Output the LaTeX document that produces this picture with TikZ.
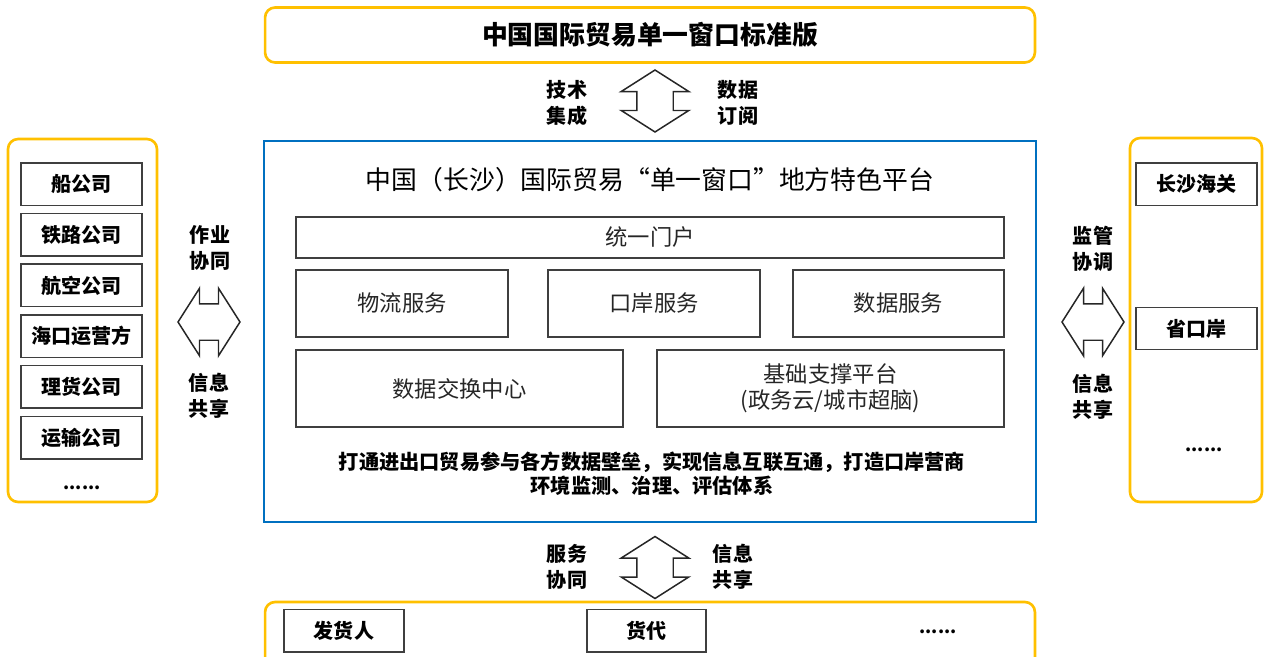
\documentclass[tikz,border=0pt]{standalone}
\usepackage{fontspec}
\setmainfont{Noto Sans CJK SC}
\usetikzlibrary{positioning,shapes.arrows}
\definecolor{frameyellow}{HTML}{FFC000}
\definecolor{frameblue}{HTML}{0070C0}
\definecolor{boxline}{HTML}{3F3F3F}

\begin{document}
\begin{tikzpicture}[x=0.02cm, y=-0.02cm,
    yframe/.style={
        draw=frameyellow, line width=1.5pt, rounded corners=0.2cm, inner sep=0pt,
    },
    party/.style={
        draw=boxline, line width=0.85pt, inner sep=0pt,
        minimum width=2.42cm, minimum height=0.85cm,
        font=\fontsize{11.4}{13}\selectfont\bfseries,
    },
    module/.style={
        draw=boxline, line width=0.85pt, inner sep=0pt, align=center,
        font=\fontsize{12.7}{14.8}\selectfont, text=black!85,
    },
    tag/.style={
        align=center, font=\fontsize{11.4}{14.7}\selectfont\bfseries,
    },
    flow/.style={
        double arrow, draw=black!85, line width=0.85pt,
        inner xsep=0pt, inner ysep=0.35cm,
        minimum width=1.32cm, minimum height=1.24cm,
        double arrow head extend=0.31cm, double arrow tip angle=115,
    }
]
    \useasboundingbox (0,0) rectangle (1264,656);
    \clip (0,0) rectangle (1264,656);

    % standard version on top
    \node[yframe, minimum width=15.4cm, minimum height=1.1cm,
        font=\fontsize{14.7}{17}\selectfont\bfseries] (std) at (650,35) {中国国际贸易单一窗口标准版};
    \node[flow, rotate=90] (topflow) at (655,101) {};
    \node[tag] (topleft) at (567,103) {技术\\集成};
    \node[tag] (topright) at (738,103) {数据\\订阅};

    % local platform
    \node[draw=frameblue, line width=1.5pt, minimum width=15.44cm, minimum height=7.62cm] (local) at (650,331.5) {};
    \node[font=\fontsize{14.7}{17}\selectfont] (localtitle) at (650,180) {中国（长沙）国际贸易“单一窗口”地方特色平台};
    \node[module, minimum width=14.16cm, minimum height=0.82cm] (portal) at (650,237.5) {统一门户};
    \node[module, minimum width=4.24cm, minimum height=1.34cm] (logistics) at (402,303.5) {物流服务};
    \node[module, minimum width=4.24cm, minimum height=1.34cm] (port) at (654,303.5) {口岸服务};
    \node[module, minimum width=4.22cm, minimum height=1.34cm] (dataserv) at (898.5,303.5) {数据服务};
    \node[module, minimum width=6.54cm, minimum height=1.54cm] (exchange) at (459.5,388.5) {数据交换中心};
    \node[module, minimum width=6.94cm, minimum height=1.54cm] (base) at (830.5,388.5) {基础支撑平台\\(政务云/城市超脑)};
    \node[align=center, font=\fontsize{11.5}{13.6}\selectfont\bfseries] (goal) at (652,474)
        {打通进出口贸易参与各方数据壁垒，实现信息互联互通，打造口岸营商\\环境监测、治理、评估体系};

    % carriers on the left
    \node[yframe, minimum width=2.98cm, minimum height=7.26cm] (carriers) at (82.5,320.5) {};
    \node[party] (ship) at (81.5,184) {船公司};
    \node[party, below=0.135cm of ship] (rail) {铁路公司};
    \node[party, below=0.135cm of rail] (air) {航空公司};
    \node[party, below=0.135cm of air] (seaport) {海口运营方};
    \node[party, below=0.135cm of seaport] (tally) {理货公司};
    \node[party, below=0.135cm of tally] (transport) {运输公司};
    \node[font=\bfseries] (leftdots) at (82,488) {......};
    \node[flow] (leftflow) at (209,322) {};
    \node[tag] (lefttop) at (210,248) {作业\\协同};
    \node[tag] (leftbottom) at (209,396) {信息\\共享};

    % regulators on the right
    \node[yframe, minimum width=2.64cm, minimum height=7.28cm] (regulators) at (1196,320) {};
    \node[party] (customs) at (1196.5,184) {长沙海关};
    \node[party] (province) at (1196.5,328.5) {省口岸};
    \node[font=\bfseries] (rightdots) at (1204,450) {......};
    \node[flow] (rightflow) at (1093,322) {};
    \node[tag] (righttop) at (1093,249) {监管\\协调};
    \node[tag] (rightbottom) at (1093,397) {信息\\共享};

    % shippers at the bottom
    \node[flow, rotate=90] (bottomflow) at (655,567.5) {};
    \node[tag] (bottomleft) at (567,567) {服务\\协同};
    \node[tag] (bottomright) at (733,567) {信息\\共享};
    \node[yframe, minimum width=15.4cm, minimum height=1.4cm] (shippers) at (650,637) {};
    \node[party, minimum width=2.4cm] (consignor) at (344,630.5) {发货人};
    \node[party, minimum width=2.38cm] (forwarder) at (646.5,630.5) {货代};
    \node[font=\bfseries] (bottomdots) at (938,632) {......};
\end{tikzpicture}
\end{document}
